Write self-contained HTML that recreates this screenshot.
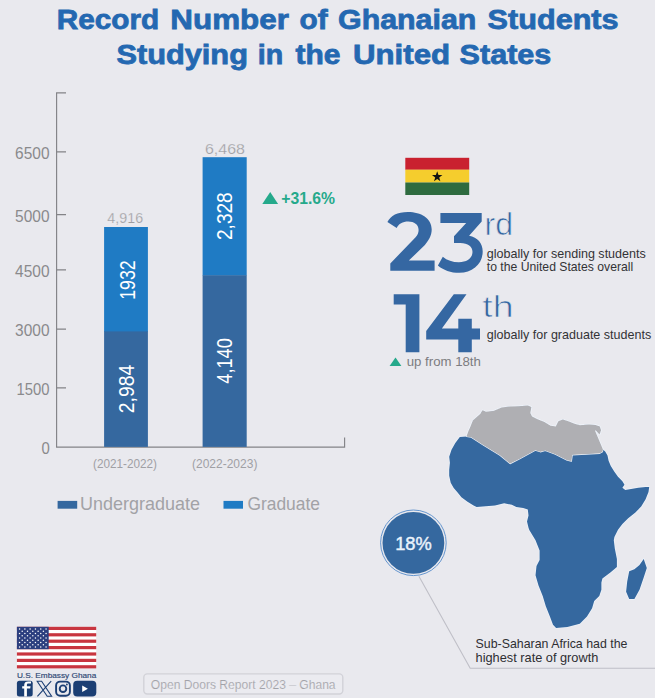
<!DOCTYPE html>
<html><head><meta charset="utf-8">
<style>
html,body{margin:0;padding:0;}
body{width:655px;height:698px;overflow:hidden;background:#e9e9ee;font-family:"Liberation Sans",sans-serif;}
svg{display:block;}
text{font-family:"Liberation Sans",sans-serif;}
</style></head>
<body>
<svg width="655" height="698" viewBox="0 0 655 698">
<rect x="0" y="0" width="655" height="698" fill="#e9e9ee"/>
<!-- Title -->
<g fill="#2468b1" stroke="#2468b1" stroke-width="0.8" font-weight="bold" font-size="28.5">
<text x="56.66" y="29.3" textLength="102.52" lengthAdjust="spacingAndGlyphs">Record</text>
<text x="170.3" y="29.3" textLength="118.6" lengthAdjust="spacingAndGlyphs">Number</text>
<text x="299.55" y="29.3" textLength="28.11" lengthAdjust="spacingAndGlyphs">of</text>
<text x="338.03" y="29.3" textLength="138.37" lengthAdjust="spacingAndGlyphs">Ghanaian</text>
<text x="487.6" y="29.3" textLength="131.01" lengthAdjust="spacingAndGlyphs">Students</text>
<text x="116.4" y="63.5" textLength="131.52" lengthAdjust="spacingAndGlyphs">Studying</text>
<text x="257.7" y="63.5" textLength="25.42" lengthAdjust="spacingAndGlyphs">in</text>
<text x="295.4" y="63.5" textLength="44.99" lengthAdjust="spacingAndGlyphs">the</text>
<text x="353.0" y="63.5" textLength="97.14" lengthAdjust="spacingAndGlyphs">United</text>
<text x="459.6" y="63.5" textLength="91.71" lengthAdjust="spacingAndGlyphs">States</text>
</g>

<!-- Axes -->
<g stroke="#838387" stroke-width="1.15" fill="none">
<path d="M66 92.8 H56.6 V447.1 H344.6 V437.4"/>
<path d="M56.6 151.9 H66 M56.6 214.6 H66 M56.6 269.8 H66 M56.6 329.1 H66 M56.6 387.9 H66"/>
</g>
<g fill="#8a8a8c" font-size="16.5">
<text x="15.1" y="159" textLength="34.4" lengthAdjust="spacingAndGlyphs">6500</text>
<text x="15.1" y="221.8" textLength="34.4" lengthAdjust="spacingAndGlyphs">5000</text>
<text x="15.1" y="276.8" textLength="34.4" lengthAdjust="spacingAndGlyphs">4500</text>
<text x="15.1" y="335.9" textLength="34.4" lengthAdjust="spacingAndGlyphs">3000</text>
<text x="16.5" y="395" textLength="33" lengthAdjust="spacingAndGlyphs">1500</text>
<text x="41.4" y="453.7" textLength="8.3" lengthAdjust="spacingAndGlyphs">0</text>
</g>

<!-- Bars -->
<rect x="104.1" y="227" width="43.8" height="105" fill="#1f7bc4"/>
<rect x="104.1" y="331.4" width="43.8" height="115.5" fill="#35689f"/>
<rect x="202.6" y="157.2" width="44.1" height="118.5" fill="#1f7bc4"/>
<rect x="202.6" y="275.3" width="44.1" height="171.6" fill="#35689f"/>

<g fill="#9c9ca0" stroke="#e9e9ee" stroke-width="0.25" font-size="14.5">
<text x="107.3" y="223.3" textLength="35.8" lengthAdjust="spacingAndGlyphs">4,916</text>
<text x="204.9" y="153.7" textLength="40.1" lengthAdjust="spacingAndGlyphs">6,468</text>
</g>

<!-- rotated bar labels -->
<g fill="#ffffff" font-size="22">
<text transform="translate(134.8 299.8) rotate(-90)" textLength="39.5" lengthAdjust="spacingAndGlyphs">1932</text>
<text transform="translate(134.2 413.2) rotate(-90)" textLength="48.4" lengthAdjust="spacingAndGlyphs">2,984</text>
<text transform="translate(232.2 240) rotate(-90)" textLength="47.7" lengthAdjust="spacingAndGlyphs">2,328</text>
<text transform="translate(232.2 383.7) rotate(-90)" textLength="45.5" lengthAdjust="spacingAndGlyphs">4,140</text>
</g>

<!-- x labels -->
<g fill="#a0a0a5" font-size="12.7">
<text x="93" y="467.7" textLength="64" lengthAdjust="spacingAndGlyphs">(2021-2022)</text>
<text x="192" y="467.7" textLength="65.4" lengthAdjust="spacingAndGlyphs">(2022-2023)</text>
</g>

<!-- legend -->
<rect x="57.6" y="500.9" width="19.6" height="7.8" fill="#35689f"/>
<rect x="223.5" y="500.9" width="19.5" height="7.8" fill="#1f7bc4"/>
<g fill="#a2a2a6" font-size="19">
<text x="80" y="509.5" textLength="120" lengthAdjust="spacingAndGlyphs">Undergraduate</text>
<text x="247.4" y="509.5" textLength="72.6" lengthAdjust="spacingAndGlyphs">Graduate</text>
</g>

<!-- +31.6% -->
<path d="M262.3 203.9 L270.2 192 L278.1 203.9 Z" fill="#25a98b"/>
<text x="281.3" y="203.9" fill="#25a98b" font-size="16.6" font-weight="bold" textLength="53.8" lengthAdjust="spacingAndGlyphs">+31.6%</text>

<!-- Africa -->
<path d="M468.5 431.0 L470.1 427.5 L472.9 420.6 L480.4 413.7 L482.5 410.3 L485.9 411.7 L493.5 411.0 L501.7 407.6 L510.0 406.6 L519.6 406.2 L527.8 405.5 L531.3 406.9 L530.3 413.1 L532.0 416.5 L537.4 419.2 L544.3 422.0 L550.5 425.7 L555.8 426.6 L558.4 421.3 L562.8 419.6 L568.1 421.3 L575.1 424.0 L580.0 425.3 L589.2 424.5 L595.3 424.9 L599.8 426.5 L601.0 430.3 L599.5 434.5 L596.0 430.6 L594.9 430.6 L602.9 449.4 L605.2 451.6 L607.5 455.5 L608.6 460.8 L610.8 466.0 L614.4 471.8 L618.0 476.8 L622.4 481.2 L624.5 484.8 L622.4 487.7 L625.3 489.9 L629.6 489.2 L638.3 487.7 L645.6 487.0 L649.2 487.0 L648.5 492.1 L645.6 499.3 L641.2 506.6 L635.4 512.4 L628.2 518.2 L622.4 524.0 L618.0 529.8 L614.4 537.0 L613.8 540.3 L614.8 548.5 L616.9 558.9 L616.9 567.1 L610.7 572.3 L602.4 578.4 L601.4 582.6 L601.4 589.8 L599.3 596.0 L594.2 601.1 L592.1 608.3 L587.0 616.6 L579.8 623.8 L567.4 626.9 L556.1 627.9 L553.0 624.8 L549.9 616.6 L545.8 606.3 L542.7 596.0 L538.5 585.6 L535.5 575.3 L536.5 566.1 L539.6 559.9 L539.6 550.6 L535.5 540.3 L529.3 530.0 L528.5 527.7 L527.0 521.6 L528.5 515.5 L527.8 509.4 L523.2 507.9 L516.3 507.1 L511.8 504.8 L504.1 503.3 L495.0 505.6 L485.8 506.3 L476.6 507.1 L473.6 505.6 L467.5 501.8 L461.4 497.2 L457.6 492.6 L453.7 488.0 L450.7 482.7 L449.2 475.8 L449.2 469.7 L449.9 462.8 L449.2 456.7 L451.5 449.8 L455.3 443.0 L459.8 436.9 L466.5 436.5 Z" fill="#35689f" stroke="#eef3fa" stroke-width="1.4" paint-order="stroke" stroke-linejoin="round"/>
<path d="M643.7 558.9 L646.8 568.1 L643.7 577.4 L639.5 589.8 L634.4 599.0 L629.2 599.0 L626.1 591.8 L627.2 581.5 L629.2 571.2 L634.4 569.2 L639.5 565.0 Z" fill="#35689f" stroke="#eef3fa" stroke-width="1.4" paint-order="stroke" stroke-linejoin="round"/>
<path d="M468.5 431.0 L470.1 427.5 L472.9 420.6 L480.4 413.7 L482.5 410.3 L485.9 411.7 L493.5 411.0 L501.7 407.6 L510.0 406.6 L519.6 406.2 L527.8 405.5 L531.3 406.9 L530.3 413.1 L532.0 416.5 L537.4 419.2 L544.3 422.0 L550.5 425.7 L555.8 426.6 L558.4 421.3 L562.8 419.6 L568.1 421.3 L575.1 424.0 L580.0 425.3 L589.2 424.5 L595.3 424.9 L599.8 426.5 L601.0 430.3 L599.5 434.5 L596.0 430.6 L594.9 430.6 L602.9 449.4 L602.4 451.8 L599.8 453.3 L572.2 454.8 L571.4 461.1 L567.2 460.2 L555.4 454.3 L545.3 450.5 L540.3 451.8 L535.3 450.2 L520.2 458.5 L510.1 463.6 L500.0 455.2 L482.5 444.5 L471.3 437.2 L466.5 436.5 Z" fill="#afafb3" stroke="#eef3fa" stroke-width="1.2" paint-order="stroke" stroke-linejoin="round"/>
<!-- /Africa -->
<!-- Ghana flag -->
<rect x="405.3" y="157.8" width="63.9" height="12" fill="#c9212f"/>
<rect x="405.3" y="169.7" width="63.9" height="12.9" fill="#f5cd2d"/>
<rect x="405.3" y="182.5" width="63.9" height="12.5" fill="#2e6b3f"/>
<path d="M437.2 171.3 L438.5 175.1 L442.4 175.1 L439.2 177.4 L440.4 181.2 L437.2 178.9 L434 181.2 L435.2 177.4 L432 175.1 L435.9 175.1 Z" fill="#111"/>

<!-- Big numbers -->
<g fill="#3567a2">
<path d="M387.4 222.1 C391 215.5 397 212.1 408 212.1 C421 212.1 431.7 218.5 431.7 229.5 C431.7 236 428.5 240.5 424.9 245 L408.8 260.6 L434.6 260.6 L434.6 270.8 L390.3 270.8 L390.3 263.5 L415.6 237.2 C417.8 234.8 418.6 232.5 418.6 230 C418.6 224.5 414 221.6 408.3 221.6 C402.5 221.6 398.7 224 396.7 228 Z"/>
<path d="M440.4 212.9 L481.7 212.9 L481.7 221.6 L469.1 235.8 C477.5 237.5 482.7 243 482.7 251.5 C482.7 264 472.5 272.8 459.3 272.8 C451 272.8 443 270 437.9 265.4 L442.8 256.7 C447 260.3 452.5 262.2 459 262.2 C467 262.2 472.5 258 472.5 252 C472.5 246.5 468 243 460.3 243 L454 243 L454 236.2 L466.2 223.1 L440.4 223.1 Z"/>
<path d="M393.7 294.3 L419.4 294.3 L419.4 352.3 L405.7 352.3 L405.7 304.5 L393.7 304.5 Z"/>
<path d="M453.8 294.3 L466.5 294.3 L441.9 328.4 L458.3 328.4 L458.3 318.7 L471.8 318.7 L471.8 328.4 L480 328.4 L480 339.6 L471.8 339.6 L471.8 352.3 L458.3 352.3 L458.3 339.6 L426.2 339.6 L426.2 331 Z"/>
</g>
<g fill="#3567a2" stroke="#e9e9ee" stroke-width="0.7">
<text x="484.6" y="235.4" font-size="31.4" textLength="28.6" lengthAdjust="spacingAndGlyphs">rd</text>
<text x="482.2" y="316.9" font-size="30" textLength="31.4" lengthAdjust="spacingAndGlyphs">th</text>
</g>
<g fill="#333336" font-size="13.3">
<text x="486.8" y="257.8" textLength="159" lengthAdjust="spacingAndGlyphs">globally for sending students</text>
<text x="486.8" y="270.5" textLength="146.4" lengthAdjust="spacingAndGlyphs">to the United States overall</text>
<text x="486.8" y="338.6" textLength="164.4" lengthAdjust="spacingAndGlyphs">globally for graduate students</text>
</g>
<path d="M389.6 366 L395.5 357.4 L401.4 366 Z" fill="#25a98b"/>
<text x="406.7" y="366" fill="#7c7c80" font-size="12" textLength="74.2" lengthAdjust="spacingAndGlyphs">up from 18th</text>

<!-- circle -->
<path d="M418.9 576.3 L470.2 668.3 H655" stroke="#bfbfc7" stroke-width="1.1" fill="none"/>
<circle cx="413.4" cy="542.8" r="32.8" fill="none" stroke="#6596cf" stroke-width="1"/>
<circle cx="413.4" cy="542.9" r="30.9" fill="#35689f"/>
<text x="395.2" y="549.6" fill="#eaf2fb" stroke="#eaf2fb" stroke-width="0.45" font-size="19" textLength="36.6" lengthAdjust="spacingAndGlyphs">18%</text>

<!-- caption -->
<g fill="#2e2e32" font-size="13.3">
<text x="475.6" y="648.1" textLength="151.8" lengthAdjust="spacingAndGlyphs">Sub-Saharan Africa had the</text>
<text x="475.6" y="661.8" textLength="122.7" lengthAdjust="spacingAndGlyphs">highest rate of growth</text>
</g>

<!-- Open doors box -->
<rect x="143.8" y="673.9" width="199" height="20.1" rx="3.5" fill="#ebebf0" stroke="#d2d2d8" stroke-width="1.4"/>
<text x="150.8" y="688.6" fill="#a2a2a8" stroke="#ebebf0" stroke-width="0.15" font-size="12.5" textLength="184.8" lengthAdjust="spacingAndGlyphs">Open Doors Report 2023 – Ghana</text>
<!-- US flag -->
<rect x="16.9" y="626.8" width="79.3" height="41.6" fill="#ffffff"/>
<rect x="16.9" y="626.80" width="79.3" height="3.20" fill="#c8353f"/>
<rect x="16.9" y="633.20" width="79.3" height="3.20" fill="#c8353f"/>
<rect x="16.9" y="639.60" width="79.3" height="3.20" fill="#c8353f"/>
<rect x="16.9" y="646.00" width="79.3" height="3.20" fill="#c8353f"/>
<rect x="16.9" y="652.40" width="79.3" height="3.20" fill="#c8353f"/>
<rect x="16.9" y="658.80" width="79.3" height="3.20" fill="#c8353f"/>
<rect x="16.9" y="665.20" width="79.3" height="3.20" fill="#c8353f"/>
<rect x="16.9" y="626.8" width="31.8" height="22.40" fill="#2c3f7f"/>
<g fill="#ffffff"><circle cx="19.55" cy="629.04" r="0.75"/><circle cx="24.85" cy="629.04" r="0.75"/><circle cx="30.15" cy="629.04" r="0.75"/><circle cx="35.45" cy="629.04" r="0.75"/><circle cx="40.75" cy="629.04" r="0.75"/><circle cx="46.05" cy="629.04" r="0.75"/><circle cx="22.20" cy="631.28" r="0.75"/><circle cx="27.50" cy="631.28" r="0.75"/><circle cx="32.80" cy="631.28" r="0.75"/><circle cx="38.10" cy="631.28" r="0.75"/><circle cx="43.40" cy="631.28" r="0.75"/><circle cx="19.55" cy="633.52" r="0.75"/><circle cx="24.85" cy="633.52" r="0.75"/><circle cx="30.15" cy="633.52" r="0.75"/><circle cx="35.45" cy="633.52" r="0.75"/><circle cx="40.75" cy="633.52" r="0.75"/><circle cx="46.05" cy="633.52" r="0.75"/><circle cx="22.20" cy="635.76" r="0.75"/><circle cx="27.50" cy="635.76" r="0.75"/><circle cx="32.80" cy="635.76" r="0.75"/><circle cx="38.10" cy="635.76" r="0.75"/><circle cx="43.40" cy="635.76" r="0.75"/><circle cx="19.55" cy="638.00" r="0.75"/><circle cx="24.85" cy="638.00" r="0.75"/><circle cx="30.15" cy="638.00" r="0.75"/><circle cx="35.45" cy="638.00" r="0.75"/><circle cx="40.75" cy="638.00" r="0.75"/><circle cx="46.05" cy="638.00" r="0.75"/><circle cx="22.20" cy="640.24" r="0.75"/><circle cx="27.50" cy="640.24" r="0.75"/><circle cx="32.80" cy="640.24" r="0.75"/><circle cx="38.10" cy="640.24" r="0.75"/><circle cx="43.40" cy="640.24" r="0.75"/><circle cx="19.55" cy="642.48" r="0.75"/><circle cx="24.85" cy="642.48" r="0.75"/><circle cx="30.15" cy="642.48" r="0.75"/><circle cx="35.45" cy="642.48" r="0.75"/><circle cx="40.75" cy="642.48" r="0.75"/><circle cx="46.05" cy="642.48" r="0.75"/><circle cx="22.20" cy="644.72" r="0.75"/><circle cx="27.50" cy="644.72" r="0.75"/><circle cx="32.80" cy="644.72" r="0.75"/><circle cx="38.10" cy="644.72" r="0.75"/><circle cx="43.40" cy="644.72" r="0.75"/><circle cx="19.55" cy="646.96" r="0.75"/><circle cx="24.85" cy="646.96" r="0.75"/><circle cx="30.15" cy="646.96" r="0.75"/><circle cx="35.45" cy="646.96" r="0.75"/><circle cx="40.75" cy="646.96" r="0.75"/><circle cx="46.05" cy="646.96" r="0.75"/></g>
<text x="16.9" y="677.8" fill="#2e4874" stroke="#2e4874" stroke-width="0.15" font-size="7.5" textLength="79.4" lengthAdjust="spacingAndGlyphs">U.S. Embassy Ghana</text>
<!-- social icons -->
<rect x="16.9" y="680.8" width="15.8" height="15.8" rx="2.5" fill="#1c3f74"/>
<path d="M24.2 696.6 V688.4 H22.2 V686.2 H24.2 V685 C24.2 682.4 25.8 681.4 28.2 681.4 H31 V683.6 H28.6 C27.4 683.6 26.9 684 26.9 685.1 V686.2 H30.6 L30.2 688.4 H26.9 V696.6 Z" fill="#ffffff"/>
<path d="M37.2 681.2 H41.6 L51.6 696.2 H47.2 Z M51.2 681.2 L37.4 696.4" stroke="#1c3f74" stroke-width="1.1" fill="none"/>
<rect x="56.1" y="681.6" width="13.8" height="14.2" rx="4" fill="none" stroke="#1c3f74" stroke-width="1.9"/>
<circle cx="63" cy="688.7" r="3.3" fill="none" stroke="#1c3f74" stroke-width="1.9"/>
<circle cx="66.9" cy="684.5" r="0.9" fill="#1c3f74"/>
<rect x="73.2" y="680.8" width="23.1" height="15.8" rx="4" fill="#1c3f74"/>
<path d="M82.2 685.6 L87.9 688.8 L82.2 692 Z" fill="#ffffff"/>
</svg>
</body></html>
